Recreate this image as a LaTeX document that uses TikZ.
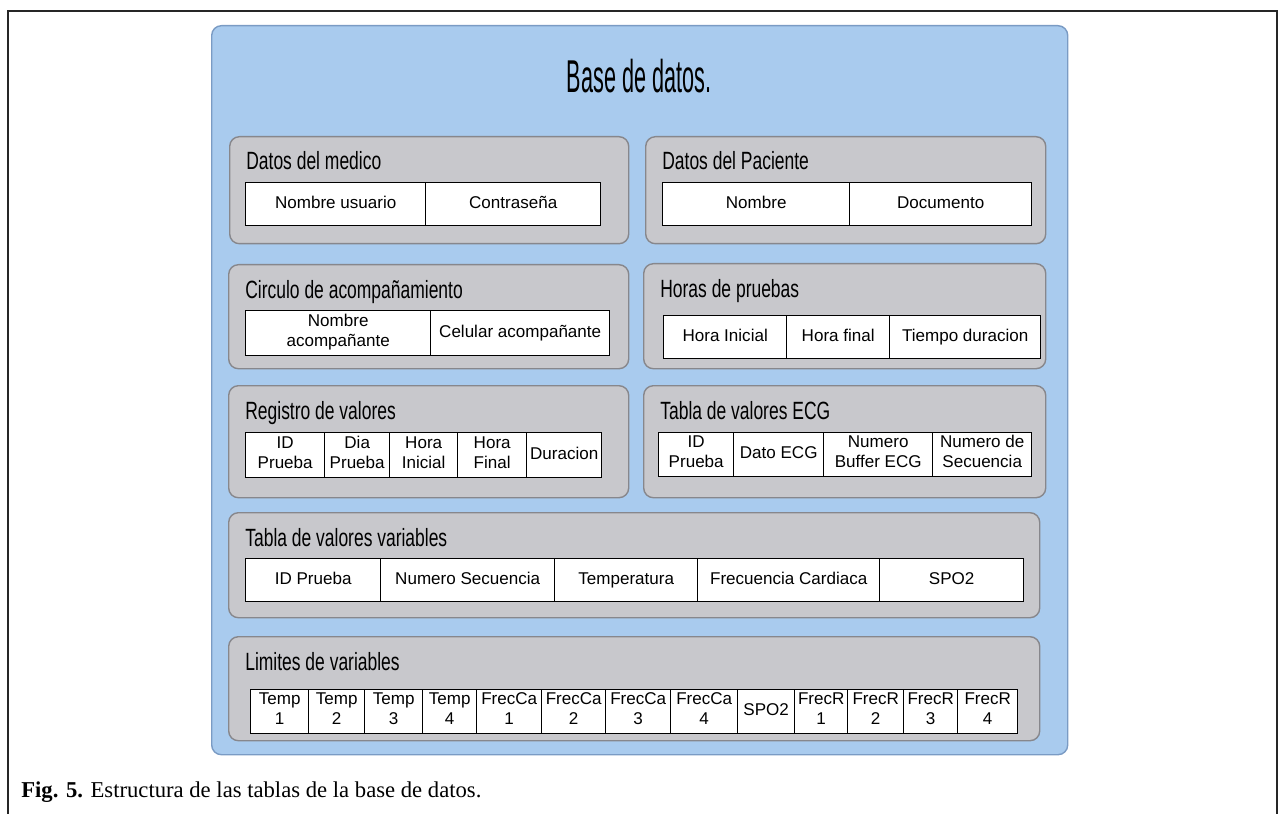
\documentclass[tikz,border=0pt]{standalone}
\usepackage{fontspec}
\setmainfont{Liberation Serif}
\newfontfamily\cellfont{Liberation Sans}
\newfontfamily\headfont[FakeStretch=0.70]{Liberation Sans}
\newfontfamily\bigfont[FakeStretch=0.47]{Liberation Sans}
\usetikzlibrary{positioning}
\definecolor{dbblue}{RGB}{169,203,238}
\definecolor{dbblueline}{RGB}{122,155,196}
\definecolor{tabgray}{RGB}{200,200,204}
\definecolor{tabgrayline}{RGB}{135,135,140}

\tikzset{
  dbbox/.style={draw=dbblueline, fill=dbblue, line width=0.8pt, rounded corners=5.5pt, anchor=north west, inner sep=0pt},
  tabbox/.style={draw=tabgrayline, fill=tabgray, line width=0.8pt, rounded corners=5.5pt, anchor=north west, inner sep=0pt},
  tabname/.style={anchor=base west, inner sep=0pt, font=\headfont\fontsize{14.2pt}{16pt}\selectfont},
  field/.style={draw=black, fill=white, line width=0.8pt, anchor=north west, inner sep=0pt, align=center,
    font=\cellfont\fontsize{9.7pt}{11.4pt}\selectfont, execute at begin node=\strut, execute at end node=\strut},
  frameline/.style={draw=black!85, line width=1.7pt},
}

\begin{document}
\begin{tikzpicture}[x=0.02cm, y=-0.02cm]
  \useasboundingbox (0,0) rectangle (1278,814);
  % page frame
  \draw[frameline] (8,814) -- (8,11) -- (1278,11);
  \draw[frameline, line width=0.8pt] (1277,11) -- (1277,814);

  % outer database box
  \node[dbbox, minimum width={(1067-211)*0.02cm}, minimum height={(754-25)*0.02cm}] (db) at (211,25) {};
  \node[anchor=base, inner sep=0pt, font=\bigfont\fontsize{26.2pt}{30pt}\selectfont] (titulo) at (639,93) {Base de datos.};

  % table panels
  \foreach \n/\xa/\ya/\xb/\yb/\t in {
      medico/229/136/628/243/Datos del medico,
      paciente/645/136/1045/243/Datos del Paciente,
      circulo/228/264/628/368/Circulo de acompañamiento,
      horas/643/263/1045/368/Horas de pruebas,
      registro/228/385/628/497/Registro de valores,
      ecg/643/385/1045/497/Tabla de valores ECG,
      variables/228/512/1039/617/Tabla de valores variables,
      limites/228/636/1039/740/Limites de variables}{
    \node[tabbox, minimum width={(\xb-\xa)*0.02cm}, minimum height={(\yb-\ya)*0.02cm}] (\n) at (\xa,\ya) {};
    \node[tabname] (\n-name) at (\xa+17,\ya+34) {\t};
  }

  % fields of each table
  \foreach \tab/\ya/\yb/\xs/\cells in {
      medico/182/225/245/{425/Nombre usuario, 600/Contraseña},
      paciente/182/225/662/{849/Nombre, 1031/Documento},
      circulo/310/355/245/{430/{Nombre\\acompañante}, 609/Celular acompañante},
      horas/315/358/663/{786/Hora Inicial, 889/Hora final, 1040/Tiempo duracion},
      registro/432/477/245/{324/{ID\\Prueba}, 389/{Dia\\Prueba}, 457/{Hora\\Inicial}, 526/{Hora\\Final}, 601/Duracion},
      ecg/432/476/658/{733/{ID\\Prueba}, 823/Dato ECG, 932/{Numero\\Buffer ECG}, 1031/{Numero de\\Secuencia}},
      variables/558/601/245/{380/ID Prueba, 554/Numero Secuencia, 697/Temperatura, 879/Frecuencia Cardiaca, 1023/SPO2},
      limites/689/733/250/{308/{Temp\\1}, 364/{Temp\\2}, 422/{Temp\\3}, 476/{Temp\\4}, 541/{FrecCa\\1}, 605/{FrecCa\\2}, 670/{FrecCa\\3}, 737/{FrecCa\\4}, 794/SPO2, 847/{FrecR\\1}, 903/{FrecR\\2}, 957/{FrecR\\3}, 1017/{FrecR\\4}}}{
    \foreach \b/\t [remember=\b as \a (initially \xs)] in \cells
      \node[field, minimum width={(\b-\a)*0.02cm}, minimum height={(\yb-\ya)*0.02cm}] (\tab-\b) at (\a,\ya) {\t};
  }

  % caption
  \node[anchor=base west, inner sep=0pt, font=\fontsize{12.9pt}{15pt}\selectfont] (caption) at (21,797) {\textbf{Fig. 5.} Estructura de las tablas de la base de datos.};
\end{tikzpicture}
\end{document}
